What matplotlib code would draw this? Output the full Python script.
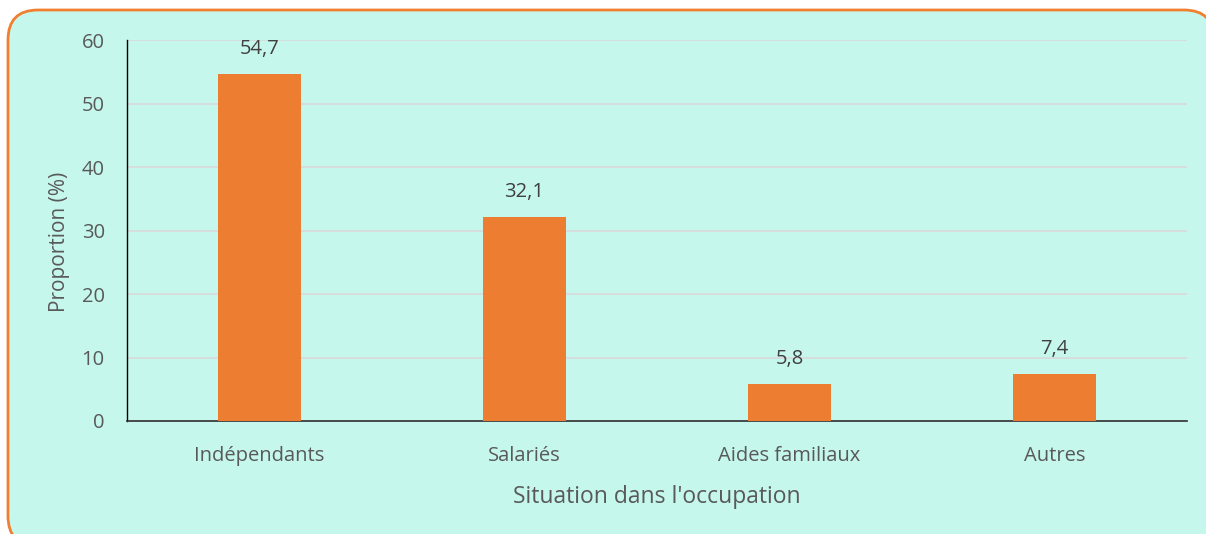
import matplotlib
matplotlib.use("Agg")
import matplotlib.pyplot as plt
from matplotlib.patches import FancyBboxPatch

categories = ["Indépendants", "Salariés", "Aides familiaux", "Autres"]
values = [54.7, 32.1, 5.8, 7.4]
yticks = [0, 10, 20, 30, 40, 50, 60]

plt.rcParams['font.family'] = ['Open Sans', 'DejaVu Sans']
txt = '#595959'
orange = '#ED7D31'

fig = plt.figure(figsize=(12.06, 5.34), dpi=100)
fig.patch.set_facecolor('white')

# rounded background panel (inch coordinates)
W, H = 1206, 534
box = FancyBboxPatch((0.08, -0.12), 12.06, 5.24 + 0.12,
                     boxstyle="round,pad=0,rounding_size=0.3",
                     transform=fig.dpi_scale_trans, facecolor='#C5F7EC',
                     edgecolor='#F08030', linewidth=2, zorder=-1)
fig.patches.append(box)

ax = fig.add_axes([127 / W, 1 - 421 / H, (1187 - 127) / W, (421 - 40) / H])
ax.set_facecolor('none')

x = range(len(categories))
bars = ax.bar(x, values, width=0.31, color=orange, zorder=3)
for xi, v in zip(x, values):
    ax.text(xi, v + 3.9, f"{v:.1f}".replace('.', ','), ha='center', va='center',
            fontsize=14.5, color='#404040')

ax.set_xlim(-0.5, 3.5)
ax.set_ylim(0, 60)
ax.set_yticks(yticks)
ax.set_yticklabels([str(t) for t in yticks], fontsize=14.5, color=txt)
ax.set_xticks(list(x))
ax.set_xticklabels(categories, fontsize=14.5, color=txt)
ax.tick_params(axis='x', length=0, pad=18)
ax.tick_params(axis='y', length=0, pad=16)
ax.yaxis.grid(True, color='#D9D9D9', linewidth=1.2, zorder=0)
ax.set_axisbelow(True)
for s in ['top', 'right']:
    ax.spines[s].set_visible(False)
ax.spines['left'].set_color('black')
ax.spines['left'].set_linewidth(1)
ax.spines['bottom'].set_color('#303030')
ax.spines['bottom'].set_linewidth(1.2)

ax.set_xlabel("Situation dans l'occupation", fontsize=16.5, color=txt, labelpad=14)
ax.set_ylabel("Proportion (%)", fontsize=15, color=txt)
ax.yaxis.set_label_coords(-0.054, 0.47)

fig.savefig("out.png", dpi=100)
